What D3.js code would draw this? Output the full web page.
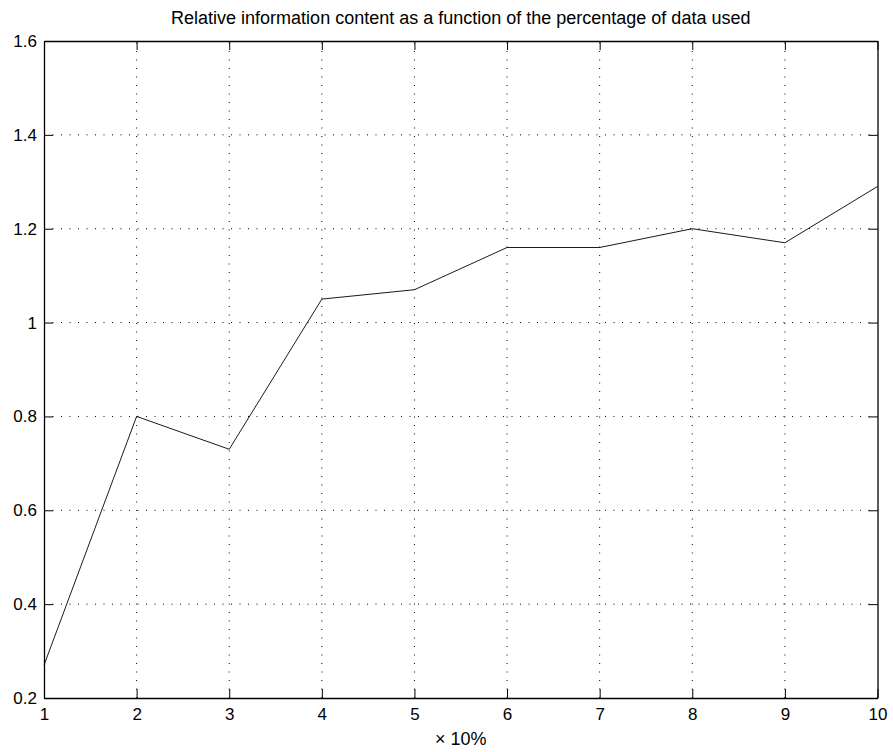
<!DOCTYPE html>
<html lang="en">
  <head>
    <meta charset="UTF-8" />
    <title>Relative information content</title>
    <script src="https://d3js.org/d3.v7.min.js"></script>
    <style>
      body {
        margin: 0;
        background: #fff;
        font-family: "Liberation Sans", Arial, sans-serif;
      }
      .axis text {
        font-size: 17px;
        fill: #000;
      }
      .grid line {
        stroke: #000;
        stroke-width: 1;
        stroke-dasharray: 1, 7.5;
      }
    </style>
  </head>
  <body>
    <div id="chart"></div>
    <script>
      const xValues = [1, 2, 3, 4, 5, 6, 7, 8, 9, 10];
      const infoContent = [0.27, 0.8, 0.73, 1.05, 1.07, 1.16, 1.16, 1.2, 1.17, 1.29];
      const yTicks = [0.2, 0.4, 0.6, 0.8, 1, 1.2, 1.4, 1.6];
      const titleText = "Relative information content as a function of the percentage of data used";
      const xLabel = "\u00d7 10%";

      const W = 893, H = 752;
      const margin = { top: 41, right: 15.5, bottom: 54, left: 44 };
      const width = W - margin.left - margin.right,
        height = H - margin.top - margin.bottom;

      const svg = d3
        .select("#chart")
        .append("svg")
        .attr("width", W)
        .attr("height", H);

      const g = svg.append("g").attr("transform", `translate(${margin.left},${margin.top})`);

      const x = d3.scaleLinear().domain([1, 10]).range([0, width]);
      const y = d3.scaleLinear().domain([0.2, 1.6]).range([height, 0]);

      // dotted grid
      g.append("g")
        .attr("class", "grid")
        .selectAll("line")
        .data(xValues.slice(1, -1))
        .enter()
        .append("line")
        .attr("x1", (d) => x(d))
        .attr("x2", (d) => x(d))
        .attr("y1", height)
        .attr("y2", 0);

      g.append("g")
        .attr("class", "grid")
        .selectAll("line")
        .data(yTicks.slice(1, -1))
        .enter()
        .append("line")
        .attr("x1", 0)
        .attr("x2", width)
        .attr("y1", (d) => y(d))
        .attr("y2", (d) => y(d));

      // axes, ticks inward on all four sides
      const tk = 9;
      g.append("g")
        .attr("class", "axis")
        .attr("transform", `translate(0,${height})`)
        .call(d3.axisBottom(x).tickValues(xValues).tickSizeInner(-tk).tickSizeOuter(0).tickPadding(10).tickFormat(d3.format("d")));
      g.append("g")
        .attr("class", "axis")
        .call(d3.axisTop(x).tickValues(xValues).tickSizeInner(-tk).tickSizeOuter(0).tickFormat(""));
      g.append("g")
        .attr("class", "axis")
        .call(d3.axisLeft(y).tickValues(yTicks).tickSizeInner(-tk).tickSizeOuter(0).tickPadding(7).tickFormat((d) => String(d)));
      g.append("g")
        .attr("class", "axis")
        .attr("transform", `translate(${width},0)`)
        .call(d3.axisRight(y).tickValues(yTicks).tickSizeInner(-tk).tickSizeOuter(0).tickFormat(""));

      g.selectAll(".axis path").attr("stroke", "#000").attr("stroke-width", 1.3);
      g.selectAll(".axis .tick line").attr("stroke", "#000");

      // data line
      const line = d3
        .line()
        .x((d, i) => x(xValues[i]))
        .y((d) => y(d));

      g.append("path")
        .datum(infoContent)
        .attr("fill", "none")
        .attr("stroke", "#000")
        .attr("stroke-width", 0.9)
        .attr("d", line);

      // title and x label
      svg.append("text")
        .attr("x", margin.left + width / 2)
        .attr("y", 24)
        .attr("text-anchor", "middle")
        .style("font-size", "18px")
        .text(titleText);

      svg.append("text")
        .attr("x", margin.left + width / 2)
        .attr("y", 745)
        .attr("text-anchor", "middle")
        .style("font-size", "18px")
        .text(xLabel);
    </script>
  </body>
</html>
